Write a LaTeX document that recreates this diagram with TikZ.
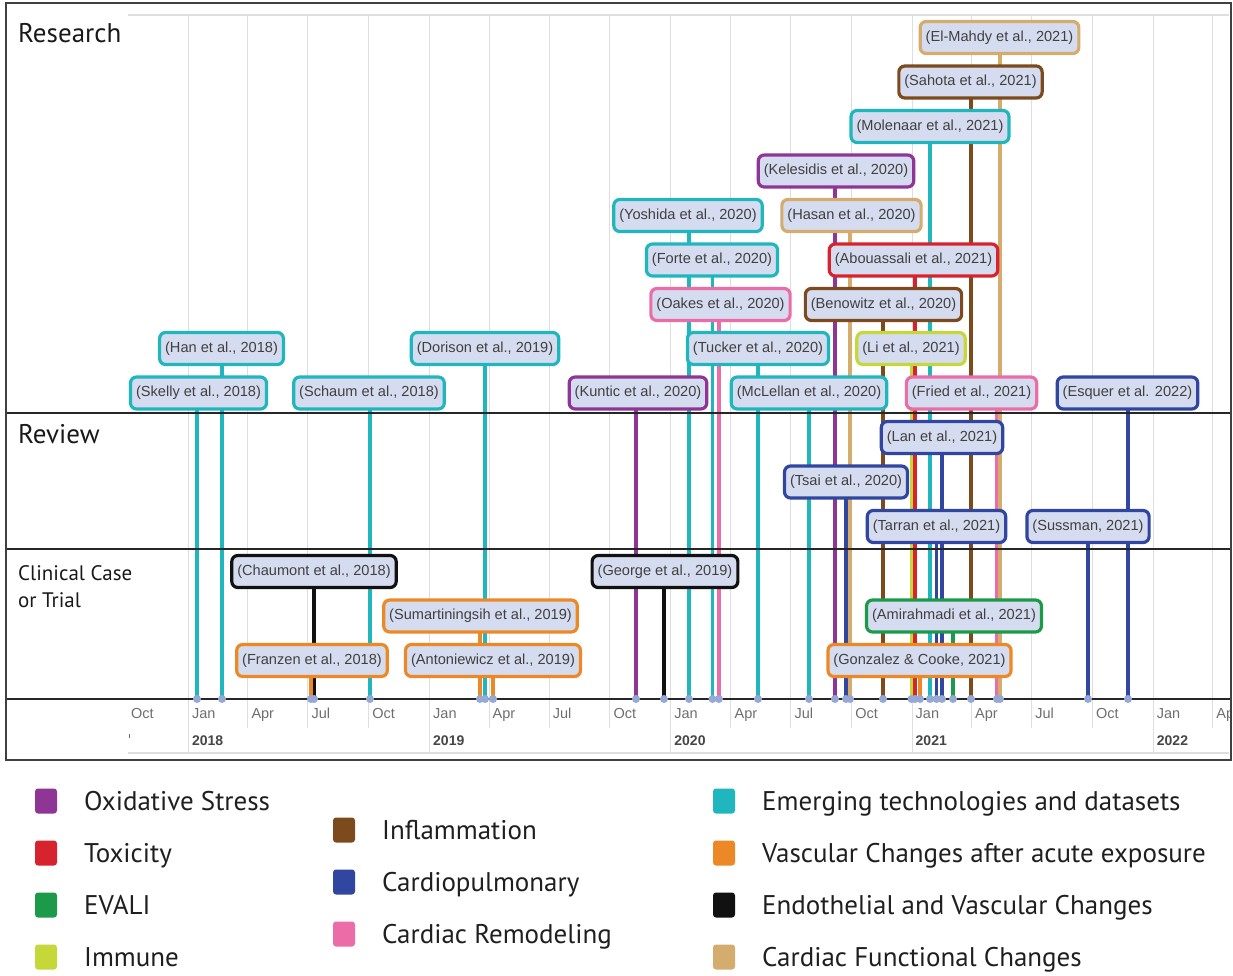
\documentclass[tikz,border=0pt]{standalone}
\usepackage{fontspec}
\usetikzlibrary{backgrounds}
\newfontfamily\arialf{Liberation Sans}
\newfontfamily\myriadf{PT Sans}
\definecolor{cteal}{RGB}{32,182,190}
\definecolor{cpurple}{RGB}{142,53,150}
\definecolor{cpink}{RGB}{236,108,168}
\definecolor{ctan}{RGB}{212,172,110}
\definecolor{cred}{RGB}{215,35,45}
\definecolor{cbrown}{RGB}{125,74,30}
\definecolor{clime}{RGB}{198,215,58}
\definecolor{cblue}{RGB}{48,70,160}
\definecolor{corange}{RGB}{236,136,38}
\definecolor{cgreen}{RGB}{28,154,74}
\definecolor{cblack}{RGB}{17,17,17}
\definecolor{boxfill}{RGB}{213,220,240}
\definecolor{boxtext}{RGB}{64,64,64}
\definecolor{dotc}{RGB}{150,168,214}
\definecolor{gridc}{RGB}{222,222,222}
\definecolor{monthc}{RGB}{110,110,110}
\definecolor{yearc}{RGB}{70,70,70}
\begin{document}
\begin{tikzpicture}[x=1pt,y=-1pt,
  bx/.style={draw=#1, line width=3.2pt, rounded corners=6pt, fill=boxfill, text=boxtext,
    font=\arialf\fontsize{14.6}{16}\selectfont, minimum height=32pt, inner xsep=5.5pt, inner ysep=0pt},
  stemline/.style={draw=#1, line width=3.2pt},
  dotm/.style={circle, fill=dotc, inner sep=0pt, minimum size=8pt},
  gridv/.style={draw=gridc, line width=1pt},
  monthlbl/.style={anchor=base west, text=monthc, font=\arialf\fontsize{14.5}{16}\selectfont, inner sep=0pt},
  yearlbl/.style={anchor=base west, text=yearc, font=\arialf\bfseries\fontsize{14}{16}\selectfont, inner sep=0pt},
  seclbl/.style={anchor=base west, text=black!90, inner sep=0pt},
  legsq/.style={fill=#1, rounded corners=3pt, minimum width=22pt, minimum height=25pt, inner sep=0pt},
  legtxt/.style={anchor=base west, text=black!88, font=\myriadf\fontsize{27}{30}\selectfont, inner sep=0pt}
]
\useasboundingbox (0,0) rectangle (1233,976);

% ---------- grid (background) ----------
\begin{scope}[on background layer]
  \draw[gridc, line width=1.2pt] (128,15) -- (1229,15);
  \draw[gridc, line width=1.2pt] (128,753) -- (1229,753);
  \foreach \gx in {247.8,307.9,368.7,489,549.1,609.9,730.9,790.9,851.7,971.5,1031.6,1092.4,1212.7}
    \draw[gridv] (\gx,15) -- (\gx,728);
  \foreach \gx in {188.3,429.5,670.7,912,1153.2}
    \draw[gridv] (\gx,15) -- (\gx,753);
\end{scope}

% ---------- axis labels ----------
\begin{scope}
  \clip (0,0) rectangle (1229,976);
  \foreach \gx/\m in {127.5/Oct,188.3/Jan,247.8/Apr,307.9/Jul,368.7/Oct,429.5/Jan,489/Apr,549.1/Jul,609.9/Oct,670.7/Jan,730.9/Apr,790.9/Jul,851.7/Oct,912/Jan,971.5/Apr,1031.6/Jul,1092.4/Oct,1153.2/Jan,1212.7/Apr}
    \node[monthlbl] at (\gx+3.5,718) {\m};
  \foreach \gx/\yy in {188.3/2018,429.5/2019,670.7/2020,912/2021,1153.2/2022}
    \node[yearlbl] at (\gx+3.5,745.5) {\yy};
\end{scope}
\draw[monthc, line width=0.8pt] (129,733.5) -- (129,737.5);

% ---------- section labels ----------
\node[seclbl, font=\myriadf\fontsize{27}{30}\selectfont] (lres) at (18,42.3) {Research};
\node[seclbl, font=\myriadf\fontsize{27}{30}\selectfont] (lrev) at (18,443.5) {Review};
\node[seclbl, font=\myriadf\fontsize{21}{24}\selectfont] (lcl1) at (18,580.5) {Clinical Case};
\node[seclbl, font=\myriadf\fontsize{21}{24}\selectfont] (lcl2) at (18,607) {or Trial};

% ---------- boxes ----------
% Research
\node[bx=cteal]   (skelly)    at (198.5,393) {(Skelly et al., 2018)};
\node[bx=cteal]   (han)       at (221.5,348.5)   {(Han et al., 2018)};
\node[bx=cteal]   (schaum)    at (369,393)   {(Schaum et al., 2018)};
\node[bx=cteal]   (dorison)   at (485,348.5)     {(Dorison et al., 2019)};
\node[bx=cpurple] (kuntic)    at (638,393)   {(Kuntic et al., 2020)};
\node[bx=cteal]   (yoshida)   at (688,215.5)     {(Yoshida et al., 2020)};
\node[bx=cteal]   (forte)     at (712,260)   {(Forte et al., 2020)};
\node[bx=cpink]   (oakes)     at (720.5,304.5)   {(Oakes et al., 2020)};
\node[bx=cteal]   (tucker)    at (758,348.5)     {(Tucker et al., 2020)};
\node[bx=cteal]   (mclellan)  at (809,393)   {(McLellan et al., 2020)};
\node[bx=cpurple] (kelesidis) at (836,171)   {(Kelesidis et al., 2020)};
\node[bx=ctan]    (hasan)     at (851.5,215.5)   {(Hasan et al., 2020)};
\node[bx=cred]    (abouassali) at (913.5,260) {(Abouassali et al., 2021)};
\node[bx=cbrown]  (benowitz)  at (883.5,304.5)   {(Benowitz et al., 2020)};
\node[bx=clime]   (li)        at (911,348.5)     {(Li et al., 2021)};
\node[bx=cpink]   (fried)     at (971.5,393) {(Fried et al., 2021)};
\node[bx=cteal]   (molenaar)  at (930,126.5)     {(Molenaar et al., 2021)};
\node[bx=cbrown]  (sahota)    at (970.5,82)  {(Sahota et al., 2021)};
\node[bx=ctan]    (elmahdy)   at (999.5,37.5)    {(El-Mahdy et al., 2021)};
\node[bx=cblue]   (esquer)    at (1127.5,393) {(Esquer et al. 2022)};
% Review
\node[bx=cblue]   (lan)       at (942,437.5)     {(Lan et al., 2021)};
\node[bx=cblue]   (tsai)      at (846,482)   {(Tsai et al., 2020)};
\node[bx=cblue]   (tarran)    at (936.5,526.5)   {(Tarran et al., 2021)};
\node[bx=cblue]   (sussman)   at (1088,526.5)    {(Sussman, 2021)};
% Clinical
\node[bx=cblack]  (chaumont)  at (314,571.5)     {(Chaumont et al., 2018)};
\node[bx=corange] (sumar)     at (480.5,616) {(Sumartiningsih et al., 2019)};
\node[bx=corange] (franzen)   at (312,660.5)     {(Franzen et al., 2018)};
\node[bx=corange] (anton)     at (493,660.5)     {(Antoniewicz et al., 2019)};
\node[bx=cblack]  (george)    at (665,571.5)     {(George et al., 2019)};
\node[bx=cgreen]  (amir)      at (954,616)   {(Amirahmadi et al., 2021)};
\node[bx=corange] (gonzalez)  at (919.5,660.5)   {(Gonzalez \& Cooke, 2021)};

% ---------- axis points ----------
\foreach \nm/\sx in {skelly/197,han/222,schaum/370,dorison/485,kuntic/636,yoshida/689,forte/712.5,oakes/719,tucker/758,mclellan/809,kelesidis/835,hasan/850,abouassali/915,benowitz/883,li/911.5,fried/997,molenaar/930,sahota/971,elmahdy/1000,esquer/1128,lan/942,tsai/846,tarran/936.5,sussman/1088,chaumont/314,sumar/480,franzen/311,anton/493,george/664,amir/953,gonzalez/920}
  \coordinate (p-\nm) at (\sx,699);

% ---------- stems (behind boxes) ----------
\begin{scope}[on background layer]
  \foreach \nm/\c in {skelly/cteal,han/cteal,schaum/cteal,dorison/cteal,kuntic/cpurple,yoshida/cteal,forte/cteal,oakes/cpink,tucker/cteal,mclellan/cteal,kelesidis/cpurple,hasan/ctan,abouassali/cred,benowitz/cbrown,li/clime,fried/cpink,molenaar/cteal,sahota/cbrown,elmahdy/ctan,esquer/cblue,lan/cblue,tsai/cblue,tarran/cblue,sussman/cblue,chaumont/cblack,sumar/corange,franzen/corange,anton/corange,george/cblack,amir/cgreen,gonzalez/corange}
    \draw[stemline=\c] (p-\nm |- \nm.center) -- (p-\nm);
\end{scope}

% ---------- section lines and frame ----------
\draw[black!85, line width=1.6pt] (6,413) -- (1231,413);
\draw[black!85, line width=1.6pt] (6,549) -- (1231,549);
\draw[black!85, line width=1.6pt] (6,699) -- (1231,699);
\foreach \nm in {skelly,han,schaum,dorison,kuntic,yoshida,forte,oakes,tucker,mclellan,kelesidis,hasan,abouassali,benowitz,li,fried,molenaar,sahota,elmahdy,esquer,lan,tsai,tarran,sussman,chaumont,sumar,franzen,anton,george,amir,gonzalez}
  \node[dotm] at (p-\nm) {};
\draw[black!75, line width=1.8pt] (6,3) rectangle (1231,760);

% ---------- legend ----------
\node[legsq=cpurple] (q1) at (46,801) {};
\node[legtxt] (t1) at (84,810) {Oxidative Stress};
\node[legsq=cred] (q2) at (46,853) {};
\node[legtxt] (t2) at (84,862) {Toxicity};
\node[legsq=cgreen] (q3) at (46,905) {};
\node[legtxt] (t3) at (84,914) {EVALI};
\node[legsq=clime] (q4) at (46,957) {};
\node[legtxt] (t4) at (84,966) {Immune};
\node[legsq=cbrown] (q5) at (344,830) {};
\node[legtxt] (t5) at (382,839) {Inflammation};
\node[legsq=cblue] (q6) at (344,882) {};
\node[legtxt] (t6) at (382,891) {Cardiopulmonary};
\node[legsq=cpink] (q7) at (344,934) {};
\node[legtxt] (t7) at (382,943) {Cardiac Remodeling};
\node[legsq=cteal] (q8) at (724,801) {};
\node[legtxt] (t8) at (762,810) {Emerging technologies and datasets};
\node[legsq=corange] (q9) at (724,853) {};
\node[legtxt] (t9) at (762,862) {Vascular Changes after acute exposure};
\node[legsq=cblack] (q10) at (724,905) {};
\node[legtxt] (t10) at (762,914) {Endothelial and Vascular Changes};
\node[legsq=ctan] (q11) at (724,957) {};
\node[legtxt] (t11) at (762,966) {Cardiac Functional Changes};
\end{tikzpicture}
\end{document}
